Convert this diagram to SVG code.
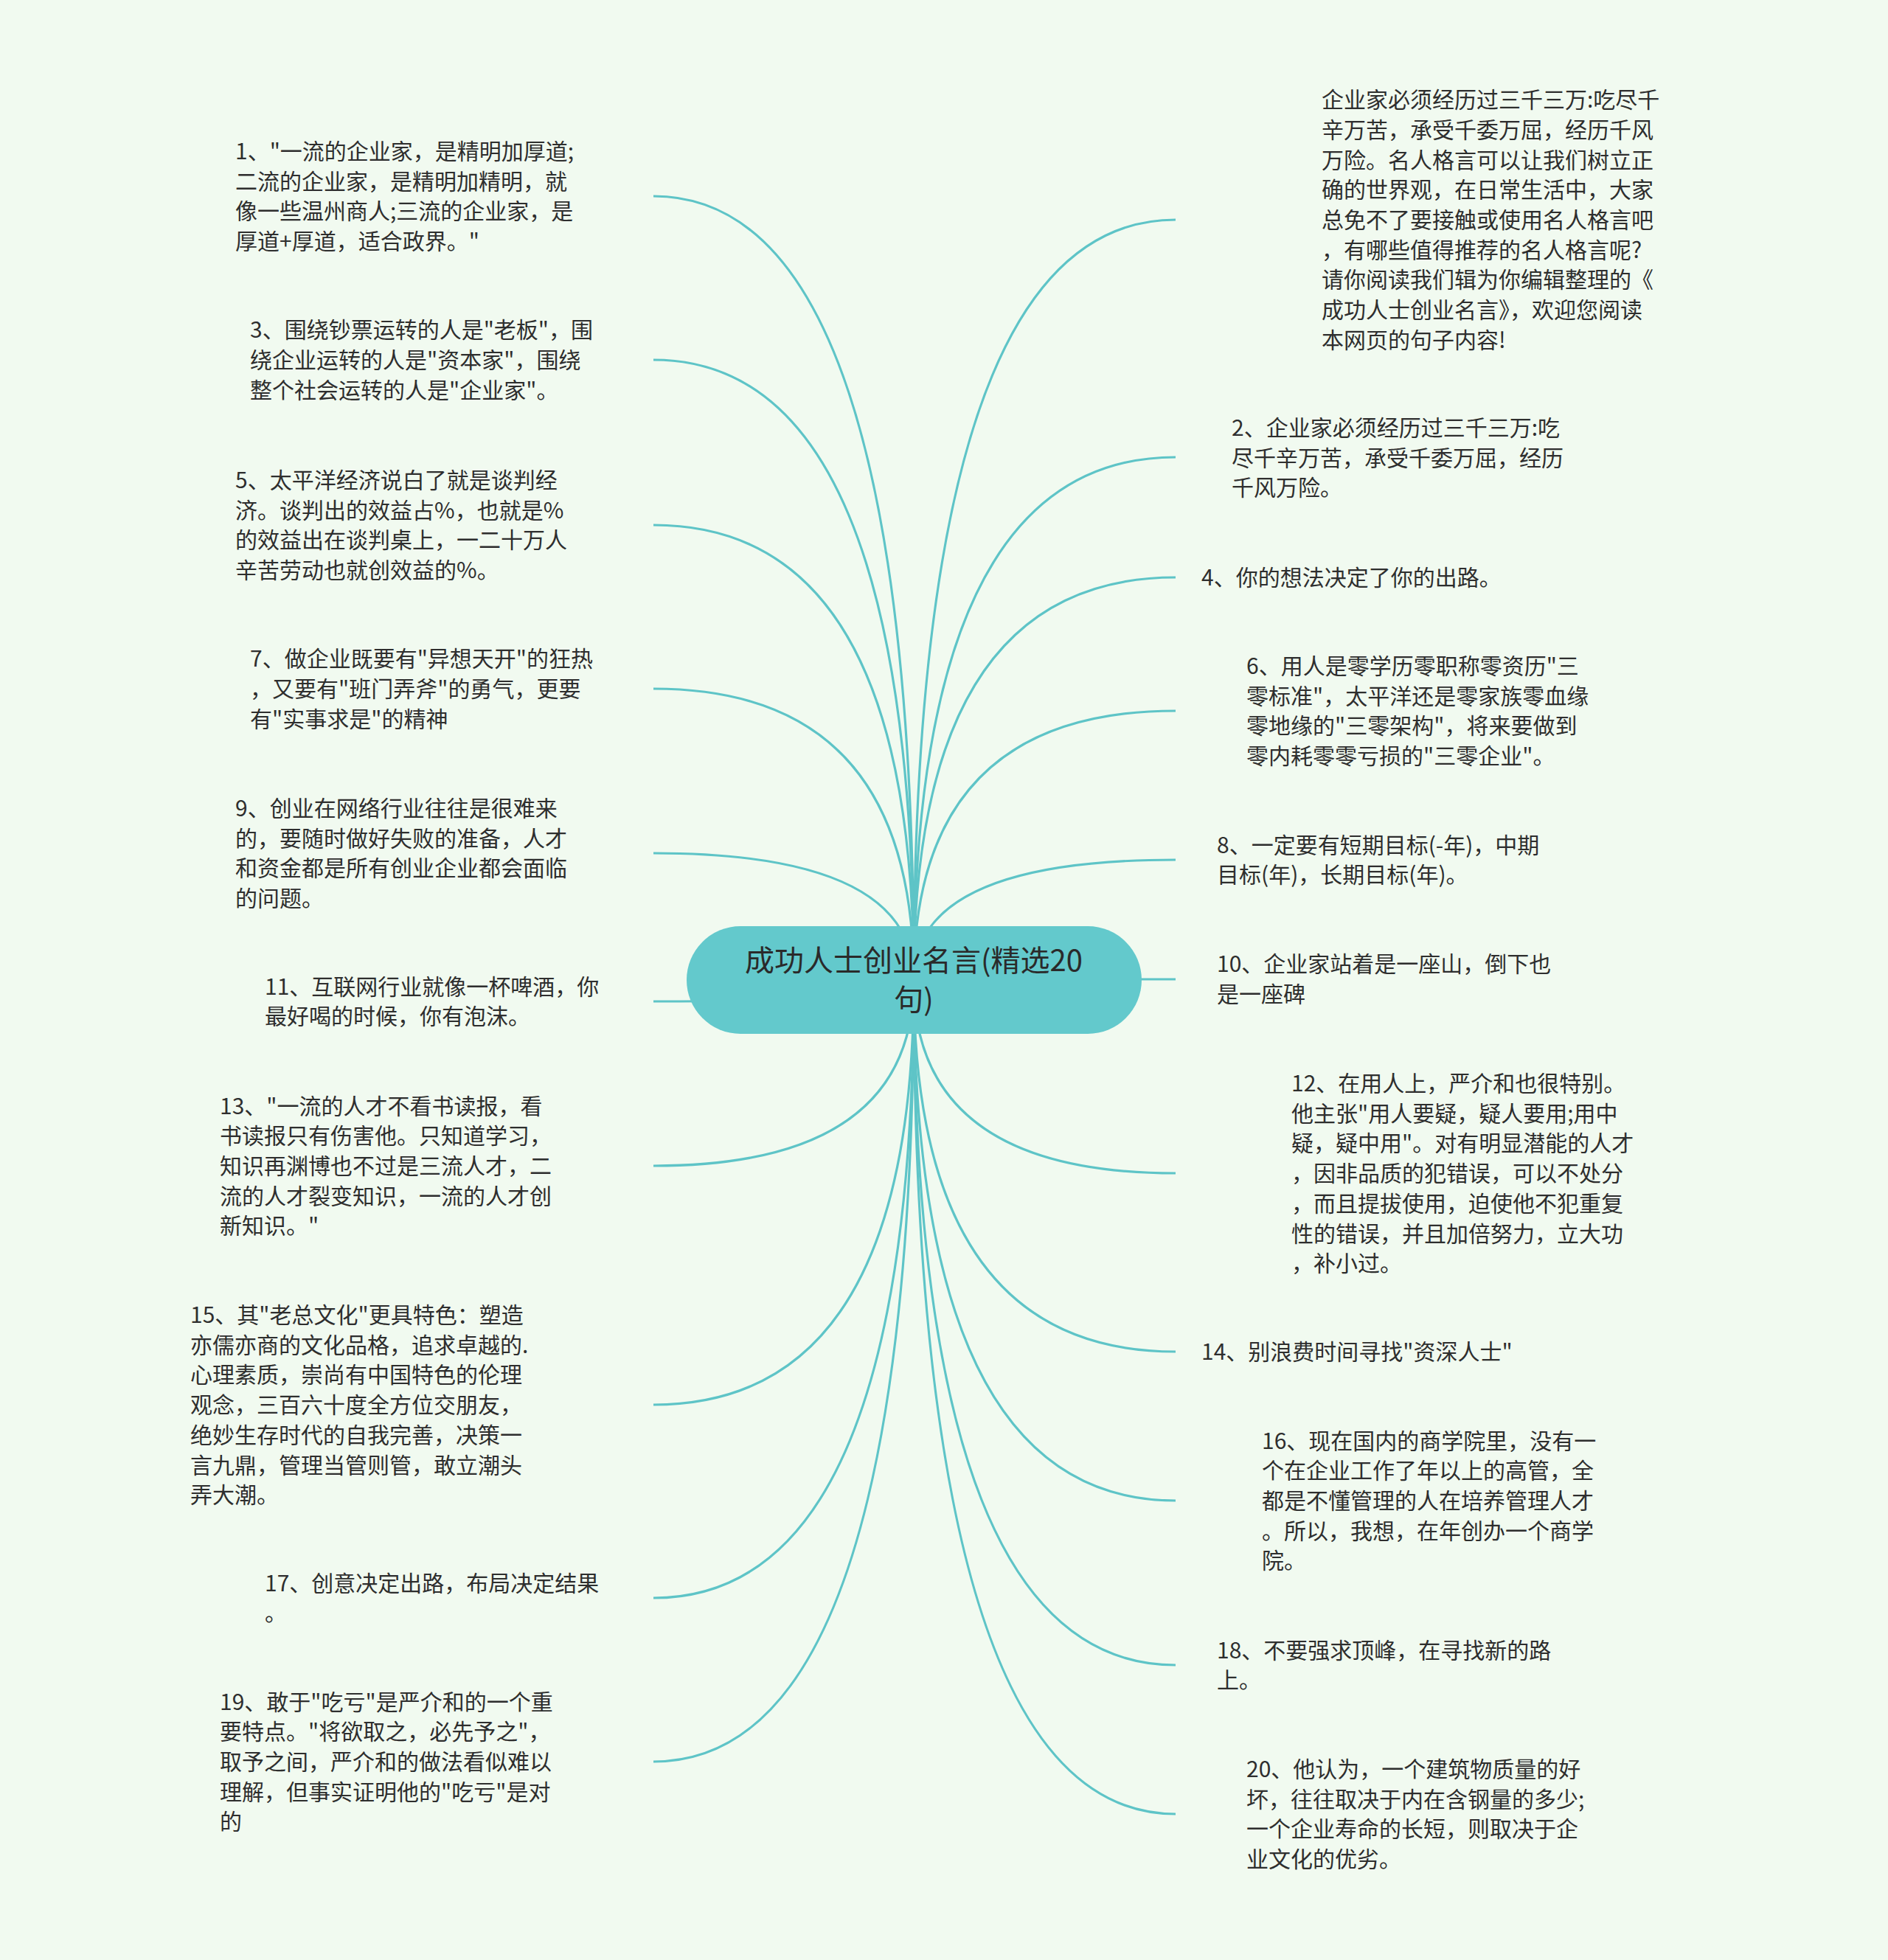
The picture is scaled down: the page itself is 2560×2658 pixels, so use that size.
<svg xmlns="http://www.w3.org/2000/svg" width="2560" height="2658" viewBox="0 0 2560 2658">
<style>
.bg{fill:#f1faf0}
.edge{fill:none;stroke:#5ec4c7;stroke-width:3.2}
.root{fill:#63c9cc}
.rt{font-family:"Noto Sans CJK SC","Noto Sans",sans-serif;font-size:40px;fill:#2a2a2a;text-anchor:middle}
.t{font-family:"Noto Sans CJK SC","Noto Sans",sans-serif;font-size:30px;fill:#2e2e2e}
</style>
<rect class="bg" x="0" y="0" width="2560" height="2658"/>
<g id="connectors">
<path class="edge" d="M1239 1329 Q1239 266 886 266"/>
<path class="edge" d="M1239 1329 Q1239 488 886 488"/>
<path class="edge" d="M1239 1329 Q1239 712 886 712"/>
<path class="edge" d="M1239 1329 Q1239 934 886 934"/>
<path class="edge" d="M1239 1329 Q1239 1157 886 1157"/>
<path class="edge" d="M1239 1329 Q1239 1358 886 1358"/>
<path class="edge" d="M1239 1329 Q1239 1581 886 1581"/>
<path class="edge" d="M1239 1329 Q1239 1905 886 1905"/>
<path class="edge" d="M1239 1329 Q1239 2167 886 2167"/>
<path class="edge" d="M1239 1329 Q1239 2389 886 2389"/>
<path class="edge" d="M1239 1329 Q1239 298 1594 298"/>
<path class="edge" d="M1239 1329 Q1239 620 1594 620"/>
<path class="edge" d="M1239 1329 Q1239 783 1594 783"/>
<path class="edge" d="M1239 1329 Q1239 964 1594 964"/>
<path class="edge" d="M1239 1329 Q1239 1166 1594 1166"/>
<path class="edge" d="M1239 1329 Q1239 1328 1594 1328"/>
<path class="edge" d="M1239 1329 Q1239 1591 1594 1591"/>
<path class="edge" d="M1239 1329 Q1239 1833 1594 1833"/>
<path class="edge" d="M1239 1329 Q1239 2035 1594 2035"/>
<path class="edge" d="M1239 1329 Q1239 2258 1594 2258"/>
<path class="edge" d="M1239 1329 Q1239 2460 1594 2460"/>
</g>
<g id="root">
<rect class="root" x="931" y="1256" width="617" height="146" rx="73"/>
<text class="rt" x="1239" y="1317">成功人士创业名言(精选20</text>
<text class="rt" x="1239" y="1370">句)</text>
</g>
<g id="n1"><text class="t" x="319" y="216"><tspan x="319">1、"一流的企业家，是精明加厚道;</tspan><tspan x="319" dy="40.7">二流的企业家，是精明加精明，就</tspan><tspan x="319" dy="40.7">像一些温州商人;三流的企业家，是</tspan><tspan x="319" dy="40.7">厚道+厚道，适合政界。"</tspan></text></g>
<g id="n3"><text class="t" x="339" y="458.3"><tspan x="339">3、围绕钞票运转的人是"老板"，围</tspan><tspan x="339" dy="40.7">绕企业运转的人是"资本家"，围绕</tspan><tspan x="339" dy="40.7">整个社会运转的人是"企业家"。</tspan></text></g>
<g id="n5"><text class="t" x="319" y="662"><tspan x="319">5、太平洋经济说白了就是谈判经</tspan><tspan x="319" dy="40.7">济。谈判出的效益占%，也就是%</tspan><tspan x="319" dy="40.7">的效益出在谈判桌上，一二十万人</tspan><tspan x="319" dy="40.7">辛苦劳动也就创效益的%。</tspan></text></g>
<g id="n7"><text class="t" x="339" y="904.3"><tspan x="339">7、做企业既要有"异想天开"的狂热</tspan><tspan x="339" dy="40.7">，又要有"班门弄斧"的勇气，更要</tspan><tspan x="339" dy="40.7">有"实事求是"的精神</tspan></text></g>
<g id="n9"><text class="t" x="319" y="1107"><tspan x="319">9、创业在网络行业往往是很难来</tspan><tspan x="319" dy="40.7">的，要随时做好失败的准备，人才</tspan><tspan x="319" dy="40.7">和资金都是所有创业企业都会面临</tspan><tspan x="319" dy="40.7">的问题。</tspan></text></g>
<g id="n11"><text class="t" x="359" y="1348.6"><tspan x="359">11、互联网行业就像一杯啤酒，你</tspan><tspan x="359" dy="40.7">最好喝的时候，你有泡沫。</tspan></text></g>
<g id="n13"><text class="t" x="298" y="1510.6"><tspan x="298">13、"一流的人才不看书读报，看</tspan><tspan x="298" dy="40.7">书读报只有伤害他。只知道学习，</tspan><tspan x="298" dy="40.7">知识再渊博也不过是三流人才，二</tspan><tspan x="298" dy="40.7">流的人才裂变知识，一流的人才创</tspan><tspan x="298" dy="40.7">新知识。"</tspan></text></g>
<g id="n15"><text class="t" x="258" y="1794"><tspan x="258">15、其"老总文化"更具特色：塑造</tspan><tspan x="258" dy="40.7">亦儒亦商的文化品格，追求卓越的.</tspan><tspan x="258" dy="40.7">心理素质，崇尚有中国特色的伦理</tspan><tspan x="258" dy="40.7">观念，三百六十度全方位交朋友，</tspan><tspan x="258" dy="40.7">绝妙生存时代的自我完善，决策一</tspan><tspan x="258" dy="40.7">言九鼎，管理当管则管，敢立潮头</tspan><tspan x="258" dy="40.7">弄大潮。</tspan></text></g>
<g id="n17"><text class="t" x="359" y="2157.6"><tspan x="359">17、创意决定出路，布局决定结果</tspan><tspan x="359" dy="40.7">。</tspan></text></g>
<g id="n19"><text class="t" x="298" y="2318.6"><tspan x="298">19、敢于"吃亏"是严介和的一个重</tspan><tspan x="298" dy="40.7">要特点。"将欲取之，必先予之"，</tspan><tspan x="298" dy="40.7">取予之间，严介和的做法看似难以</tspan><tspan x="298" dy="40.7">理解，但事实证明他的"吃亏"是对</tspan><tspan x="298" dy="40.7">的</tspan></text></g>
<g id="intro"><text class="t" x="1792" y="146.2"><tspan x="1792">企业家必须经历过三千三万:吃尽千</tspan><tspan x="1792" dy="40.7">辛万苦，承受千委万屈，经历千风</tspan><tspan x="1792" dy="40.7">万险。名人格言可以让我们树立正</tspan><tspan x="1792" dy="40.7">确的世界观，在日常生活中，大家</tspan><tspan x="1792" dy="40.7">总免不了要接触或使用名人格言吧</tspan><tspan x="1792" dy="40.7">，有哪些值得推荐的名人格言呢?</tspan><tspan x="1792" dy="40.7">请你阅读我们辑为你编辑整理的《</tspan><tspan x="1792" dy="40.7">成功人士创业名言》，欢迎您阅读</tspan><tspan x="1792" dy="40.7">本网页的句子内容!</tspan></text></g>
<g id="n2"><text class="t" x="1670" y="590.8"><tspan x="1670">2、企业家必须经历过三千三万:吃</tspan><tspan x="1670" dy="40.7">尽千辛万苦，承受千委万屈，经历</tspan><tspan x="1670" dy="40.7">千风万险。</tspan></text></g>
<g id="n4"><text class="t" x="1629" y="794.3">4、你的想法决定了你的出路。</text></g>
<g id="n6"><text class="t" x="1690" y="914"><tspan x="1690">6、用人是零学历零职称零资历"三</tspan><tspan x="1690" dy="40.7">零标准"，太平洋还是零家族零血缘</tspan><tspan x="1690" dy="40.7">零地缘的"三零架构"，将来要做到</tspan><tspan x="1690" dy="40.7">零内耗零零亏损的"三零企业"。</tspan></text></g>
<g id="n8"><text class="t" x="1650" y="1156.6"><tspan x="1650">8、一定要有短期目标(-年)，中期</tspan><tspan x="1650" dy="40.7">目标(年)，长期目标(年)。</tspan></text></g>
<g id="n10"><text class="t" x="1650" y="1318"><tspan x="1650">10、企业家站着是一座山，倒下也</tspan><tspan x="1650" dy="40.7">是一座碑</tspan></text></g>
<g id="n12"><text class="t" x="1751" y="1480"><tspan x="1751">12、在用人上，严介和也很特别。</tspan><tspan x="1751" dy="40.7">他主张"用人要疑，疑人要用;用中</tspan><tspan x="1751" dy="40.7">疑，疑中用"。对有明显潜能的人才</tspan><tspan x="1751" dy="40.7">，因非品质的犯错误，可以不处分</tspan><tspan x="1751" dy="40.7">，而且提拔使用，迫使他不犯重复</tspan><tspan x="1751" dy="40.7">性的错误，并且加倍努力，立大功</tspan><tspan x="1751" dy="40.7">，补小过。</tspan></text></g>
<g id="n14"><text class="t" x="1629" y="1843.7">14、别浪费时间寻找"资深人士"</text></g>
<g id="n16"><text class="t" x="1711" y="1964.6"><tspan x="1711">16、现在国内的商学院里，没有一</tspan><tspan x="1711" dy="40.7">个在企业工作了年以上的高管，全</tspan><tspan x="1711" dy="40.7">都是不懂管理的人在培养管理人才</tspan><tspan x="1711" dy="40.7">。所以，我想，在年创办一个商学</tspan><tspan x="1711" dy="40.7">院。</tspan></text></g>
<g id="n18"><text class="t" x="1650" y="2248.6"><tspan x="1650">18、不要强求顶峰，在寻找新的路</tspan><tspan x="1650" dy="40.7">上。</tspan></text></g>
<g id="n20"><text class="t" x="1690" y="2410"><tspan x="1690">20、他认为，一个建筑物质量的好</tspan><tspan x="1690" dy="40.7">坏，往往取决于内在含钢量的多少;</tspan><tspan x="1690" dy="40.7">一个企业寿命的长短，则取决于企</tspan><tspan x="1690" dy="40.7">业文化的优劣。</tspan></text></g>
</svg>
